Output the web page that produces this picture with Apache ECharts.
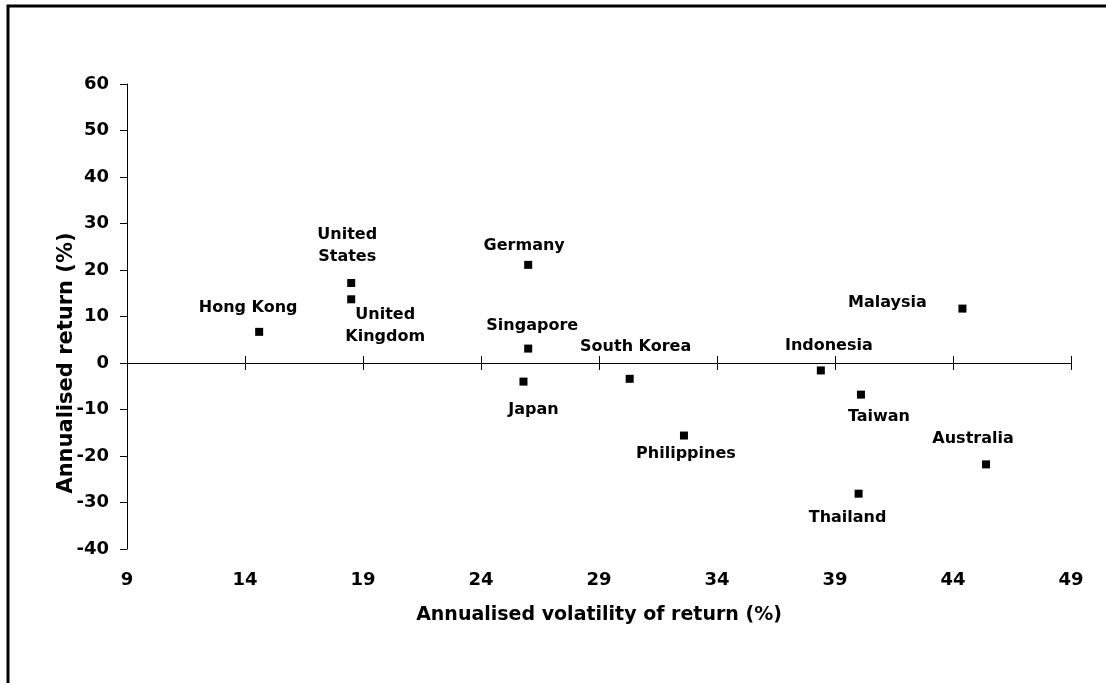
<!DOCTYPE html>
<html>
<head>
<meta charset="utf-8">
<script src="https://cdn.jsdelivr.net/npm/echarts@6/dist/echarts.min.js"></script>
<style>html,body{margin:0;padding:0;background:#fff}#c{width:1106px;height:683px}</style>
</head>
<body>
<div id="c"></div>
<script>
// Data
var countries = ['Hong Kong','United\nStates','United\nKingdom','Germany','Singapore','Japan','South Korea','Philippines','Indonesia','Taiwan','Thailand','Malaysia','Australia'];
var volatility = [14.6, 18.5, 18.5, 26.0, 26.0, 25.8, 30.3, 32.6, 38.4, 40.1, 40.0, 44.4, 45.4];
var annReturn  = [6.7, 17.2, 13.7, 21.1, 3.1, -4.0, -3.4, -15.6, -1.6, -6.8, -28.1, 11.7, -21.8];
var xTicks = [9, 14, 19, 24, 29, 34, 39, 44, 49];
var yTicks = [-40, -30, -20, -10, 0, 10, 20, 30, 40, 50, 60];

// Label layout (pixel offsets from marker centre)
var labelOffsets = [[-11,-24],[-4,-37],[34,27],[-4,-19],[4,-23],[10,28],[6,-32],[2,18],[8,-25],[18,22],[-11,24],[-75,-6],[-13,-26]];

var FONT = 'DejaVu Sans';
var pts = countries.map(function(c, i){
  return {
    name: c,
    value: [volatility[i], annReturn[i]],
    label: {offset: labelOffsets[i]}
  };
});

var chart = echarts.init(document.getElementById('c'));
var xRange = {
  type: 'value',
  min: xTicks[0], max: xTicks[xTicks.length-1], interval: xTicks[1]-xTicks[0],
  splitLine: {show: false}
};
var txt = {color: '#000', fontWeight: 'bold', fontFamily: FONT};
chart.setOption({
  animation: false,
  backgroundColor: '#fff',
  grid: [
    {left: 127, right: 35, top: 84, bottom: 134, containLabel: false, outerBoundsMode: 'none'},
    {left: 127, right: 35, top: 549, height: 1, containLabel: false, outerBoundsMode: 'none'}
  ],
  graphic: [{
    type: 'polyline', silent: true,
    shape: {points: [[8, 700], [8, 6], [1120, 6]]},
    style: {fill: 'none', stroke: '#000', lineWidth: 3}
  }],
  xAxis: [
    Object.assign({}, xRange, {
      gridIndex: 0, position: 'bottom',
      axisLine: {show: true, onZero: true, onZeroAxisIndex: 0, lineStyle: {color: '#000', width: 1}},
      axisTick: {show: true, inside: true, length: 7, lineStyle: {color: '#000'}},
      axisLabel: {show: false}
    }),
    Object.assign({}, xRange, {
      gridIndex: 0, position: 'top',
      axisLine: {show: true, onZero: true, onZeroAxisIndex: 0, lineStyle: {color: '#000', width: 1}},
      axisTick: {show: true, inside: true, length: 7, lineStyle: {color: '#000'}},
      axisLabel: {show: false}
    }),
    Object.assign({}, xRange, {
      gridIndex: 1, position: 'bottom',
      axisLine: {show: false, onZero: false},
      axisTick: {show: false},
      axisLabel: Object.assign({margin: 21, fontSize: 18}, txt),
      name: 'Annualised volatility of return (%)',
      nameLocation: 'middle', nameGap: 56, nameMoveOverlap: false,
      nameTextStyle: Object.assign({fontSize: 19}, txt)
    })
  ],
  yAxis: [{
    gridIndex: 0,
    type: 'value',
    min: yTicks[0], max: yTicks[yTicks.length-1], interval: yTicks[1]-yTicks[0],
    position: 'left',
    splitLine: {show: false},
    axisLine: {show: true, onZero: false, lineStyle: {color: '#000', width: 1}},
    axisTick: {show: true, inside: false, length: 7, lineStyle: {color: '#000'}},
    axisLabel: Object.assign({margin: 18, fontSize: 18}, txt),
    name: 'Annualised return (%)',
    nameLocation: 'middle', nameGap: 50, nameMoveOverlap: false,
    nameTextStyle: Object.assign({fontSize: 21, padding: [0, 93, 0, 0]}, txt)
  }, {
    gridIndex: 1, type: 'value', min: 0, max: 1, show: false
  }],
  series: [{
    type: 'scatter',
    xAxisIndex: 0, yAxisIndex: 0,
    symbol: 'rect',
    symbolSize: 8,
    itemStyle: {color: '#000', opacity: 1},
    label: Object.assign({
      show: true, position: 'inside', formatter: '{b}', fontSize: 16,
      align: 'center', verticalAlign: 'middle', lineHeight: 22
    }, txt),
    emphasis: {disabled: true},
    data: pts
  }]
});
</script>
</body>
</html>
